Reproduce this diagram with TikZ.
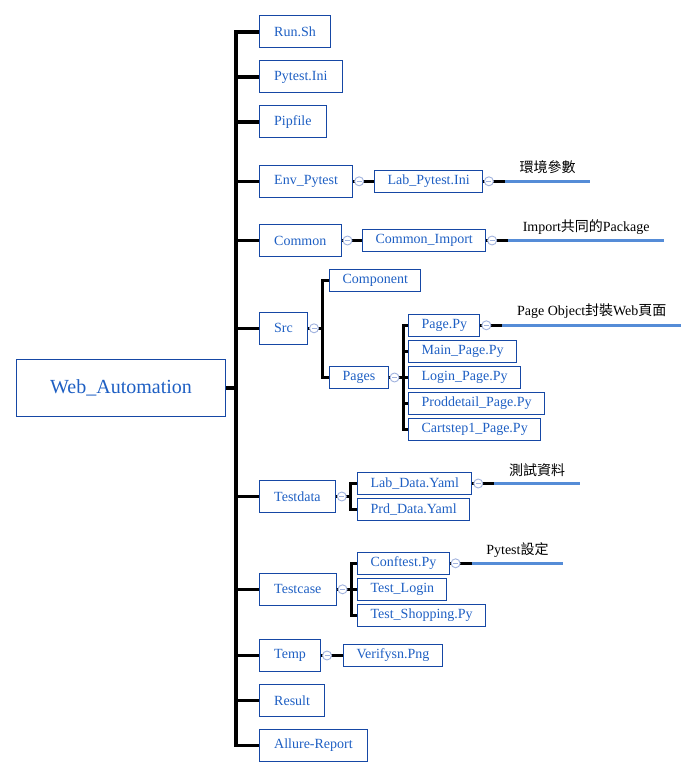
\documentclass[tikz,border=0pt]{standalone}
\usepackage{fontspec}
\setmainfont{Liberation Serif}
\newfontfamily\cjk{Noto Sans CJK TC}
\usetikzlibrary{positioning}

\definecolor{boxblue}{RGB}{22,72,165}
\definecolor{textblue}{RGB}{30,95,195}
\definecolor{noteblue}{RGB}{85,140,215}
\definecolor{foldgray}{RGB}{160,178,222}

\begin{document}
\begin{tikzpicture}[x=1pt, y=-1pt,
        box/.style={draw=boxblue, line width=1pt, text=textblue, font=\fontsize{14}{16}\selectfont, inner xsep=14.7pt, inner ysep=0pt, minimum height=32pt, anchor=west},
        leaf/.style={box, inner xsep=12.8pt, minimum height=22pt},
        branch/.style={line width=3.2pt},
        note/.style={font=\fontsize{14}{16}\selectfont, inner xsep=14.5pt, inner ysep=0pt, minimum height=27pt, anchor=south west},
        noteline/.style={draw=noteblue, line width=3pt},
        fold/.style={circle, draw=foldgray, fill=white, line width=0.9pt, minimum size=9pt, inner sep=0pt,
            path picture={\draw[foldgray, line width=1pt] ([xshift=-2.5pt]path picture bounding box.center) -- ([xshift=2.5pt]path picture bounding box.center);}}
    ]
        \useasboundingbox (0,0) rectangle (697,778);

        % Root
        \node[box, minimum width=209pt, minimum height=57pt, font=\fontsize{20}{24}\selectfont] (root) at (16,388) {Web\_Automation};

        % First level
        \node[box] (runsh) at (259,32) {Run.Sh};
        \node[box] (pytestini) at (259,77) {Pytest.Ini};
        \node[box] (pipfile) at (259,122) {Pipfile};
        \node[box] (envpytest) at (259,181.3) {Env\_Pytest};
        \node[box] (common) at (259,240.5) {Common};
        \node[box] (src) at (259,328.3) {Src};
        \node[box] (testdata) at (259,496.5) {Testdata};
        \node[box] (testcase) at (259,589.3) {Testcase};
        \node[box] (temp) at (259,655.5) {Temp};
        \node[box] (result) at (259,700.5) {Result};
        \node[box] (allure) at (259,745.5) {Allure-Report};

        % Second level
        \node[leaf] (labpytest) at (374.3,181.3) {Lab\_Pytest.Ini};
        \node[leaf] (commonimport) at (362.3,240.5) {Common\_Import};
        \node[leaf] (component) at (329.3,280.5) {Component};
        \node[leaf] (pages) at (329.3,377.5) {Pages};
        \node[leaf] (labdata) at (357.3,483.5) {Lab\_Data.Yaml};
        \node[leaf] (prddata) at (357.3,509.5) {Prd\_Data.Yaml};
        \node[leaf] (conftest) at (357.3,563.3) {Conftest.Py};
        \node[leaf] (testlogin) at (357.3,589.3) {Test\_Login};
        \node[leaf] (testshopping) at (357.3,615.3) {Test\_Shopping.Py};
        \node[leaf] (verifysn) at (343.3,655.5) {Verifysn.Png};

        % Pages
        \node[leaf] (pagepy) at (408.3,325.3) {Page.Py};
        \node[leaf] (mainpage) at (408.3,351.3) {Main\_Page.Py};
        \node[leaf] (loginpage) at (408.3,377.5) {Login\_Page.Py};
        \node[leaf] (proddetail) at (408.3,403.3) {Proddetail\_Page.Py};
        \node[leaf] (cartstep) at (408.3,429.5) {Cartstep1\_Page.Py};

        % Notes
        \node[note] (envnote) at ([xshift=22pt]labpytest.east) {{\cjk 環境參數}};
        \node[note] (importnote) at ([xshift=22pt]commonimport.east) {Import{\cjk 共同的}Package};
        \node[note] (pagenote) at ([xshift=22pt]pagepy.east) {Page Object{\cjk 封裝}Web{\cjk 頁面}};
        \node[note] (datanote) at ([xshift=22pt]labdata.east) {{\cjk 測試資料}};
        \node[note] (confnote) at ([xshift=22pt]conftest.east) {Pytest{\cjk 設定}};

        % Trunk
        \foreach \n in {runsh, pytestini, pipfile, envpytest, common, src, testdata, testcase, temp, result, allure}
            \draw[branch] (root.east) -- ++(10,0) |- (\n.west);

        % Branches
        \draw[branch] (envpytest.east) -- (labpytest.west);
        \draw[branch] (common.east) -- (commonimport.west);
        \draw[branch] (temp.east) -- (verifysn.west);
        \foreach \n in {component, pages}
            \draw[branch] (src.east) -- ++(14.4,0) |- (\n.west);
        \foreach \n in {pagepy, mainpage, loginpage, proddetail, cartstep}
            \draw[branch] (pages.east) -- ++(14.7,0) |- (\n.west);
        \foreach \n in {labdata, prddata}
            \draw[branch] (testdata.east) -- ++(15,0) |- (\n.west);
        \foreach \n in {conftest, testlogin, testshopping}
            \draw[branch] (testcase.east) -- ++(15,0) |- (\n.west);

        % Note lines
        \foreach \a/\b in {labpytest/envnote, commonimport/importnote, pagepy/pagenote, labdata/datanote, conftest/confnote} {
            \draw[branch] (\a.east) -- (\b.south west);
            \draw[noteline] (\b.south west) -- (\b.south east);
        }

        % Fold marks
        \foreach \n in {envpytest, common, src, pages, testdata, testcase, temp, labpytest, commonimport, pagepy, labdata, conftest}
            \node[fold, right=1pt of \n] (\n fold) {};
    \end{tikzpicture}
\end{document}
